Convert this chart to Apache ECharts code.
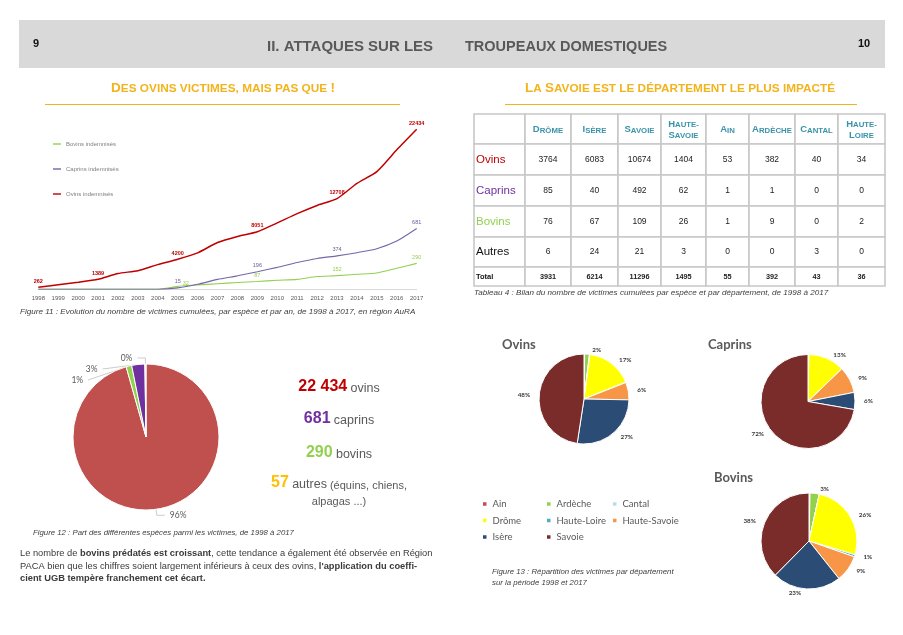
<!DOCTYPE html>
<html><head><meta charset="utf-8">
<script src="https://cdn.jsdelivr.net/npm/echarts@6/dist/echarts.min.js"></script>
<style>html,body{margin:0;padding:0;background:#fff}#c{width:903px;height:635px}</style>
</head><body><div id="c"></div>
<script>
// ---------- DATA ----------
const years = ['1998','1999','2000','2001','2002','2003','2004','2005','2006','2007','2008','2009','2010','2011','2012','2013','2014','2015','2016','2017'];
const ovinsCumul   = [262, 620, 970, 1389, 2200, 2600, 3450, 4200, 5100, 6550, 7400, 8051, 9300, 10600, 11750, 12708, 14850, 16500, 19550, 22434];
const caprinsCumul = [0, 0, 0, 0, 0, 0, 0, 15, 55, 110, 150, 196, 245, 300, 345, 374, 410, 455, 540, 681];
const bovinsCumul  = [0, 0, 0, 0, 0, 0, 0, 32, 47, 62, 75, 87, 100, 110, 142, 152, 168, 182, 235, 290];
const ovinsLabelYears = ['1998','2001','2005','2009','2013','2017'];
const otherLabelYears = ['2005','2009','2013','2017'];

const departments  = ['Drôme','Isère','Savoie','Haute-Savoie','Ain','Ardèche','Cantal','Haute-Loire'];
const ovinsByDept   = [3764, 6083, 10674, 1404, 53, 382, 40, 34];
const caprinsByDept = [85, 40, 492, 62, 1, 1, 0, 0];
const bovinsByDept  = [76, 67, 109, 26, 1, 9, 0, 2];
const autresByDept  = [6, 24, 21, 3, 0, 0, 3, 0];
const totalByDept   = [3931, 6214, 11296, 1495, 55, 392, 43, 36];
const tableRowNames = ['Ovins','Caprins','Bovins','Autres','Total'];

const pieDeptOrder = ['Ain','Ardèche','Cantal','Drôme','Haute-Loire','Haute-Savoie','Isère','Savoie'];

const speciesNames  = ['Ovins','Bovins','Caprins','Autres'];
const speciesTotals = [22434, 290, 681, 57];

const keyNumbers = ['22 434','681','290','57'];
const keyWords   = ['ovins','caprins','bovins','autres'];

// ---------- STYLE ----------
const SANS = 'Liberation Sans, Arial, sans-serif';
const CAL = 'Lato, Open Sans, sans-serif';
const GRAY = '#595959';
const GOLD = '#f2b41c';
const TEAL = '#3a93aa';
const speciesColor = {Ovins:'#c00000', Caprins:'#7030a0', Bovins:'#92d050', Autres:'#ffc000'};
const leftPieColor = {Ovins:'#c0504d', Bovins:'#92d050', Caprins:'#7030a0', Autres:'#f2dcdb'};
const deptColor = {'Ain':'#c0504d','Ardèche':'#92d050','Cantal':'#b7dee8','Drôme':'#ffff00','Haute-Loire':'#4bacc6','Haute-Savoie':'#f79646','Isère':'#2b4c74','Savoie':'#7a2c2a'};

// small caps rich-text builder
function smallCaps(str){
  let out = '', run = '', big = null;
  const flush = () => { if (run) out += '{' + (big ? 'B' : 's') + '|' + run + '}'; run = ''; };
  for (const ch of str) {
    if (ch === '\n') { flush(); out += '\n'; big = null; continue; }
    const isBig = (ch !== ch.toLowerCase()) || ch === '!';
    if (big !== null && isBig !== big) flush();
    big = isBig; run += ch.toUpperCase();
  }
  flush();
  return out;
}

const g = [];
function txt(x, y, text, st){
  g.push({type:'text', x, y, silent:true, style:Object.assign({text, fontFamily:SANS, fill:GRAY, align:'left', verticalAlign:'middle', textAlign:'left', textVerticalAlign:'middle'}, st)});
}
// header band
g.push({type:'rect', silent:true, shape:{x:19, y:20, width:866, height:48}, style:{fill:'#d9d9d9'}});
txt(33, 44, '9', {fontSize:11, fontWeight:'bold', fill:'#111'});
txt(858, 44, '10', {fontSize:11, fontWeight:'bold', fill:'#111'});
txt(267, 46.5, 'II. ATTAQUES SUR LES', {fontSize:15, fontWeight:'bold', fill:GRAY});
txt(465, 46.5, 'TROUPEAUX DOMESTIQUES', {fontSize:14.5, fontWeight:'bold', fill:GRAY});
// section titles
const scRich = (b, s, col) => ({B:{fontSize:b, fontWeight:'bold', fill:col, fontFamily:SANS, verticalAlign:'bottom'}, s:{fontSize:s, fontWeight:'bold', fill:col, fontFamily:SANS, verticalAlign:'bottom'}});
txt(223, 88, smallCaps('Des ovins victimes, mais pas que !'), {align:'center', textAlign:'center', rich:scRich(13.5, 11.8, GOLD)});
txt(680, 88, smallCaps('La Savoie est le département le plus impacté'), {align:'center', textAlign:'center', rich:scRich(13.5, 11.8, GOLD)});
g.push({type:'line', silent:true, shape:{x1:45, y1:104.5, x2:400, y2:104.5}, style:{stroke:GOLD, lineWidth:1}});
g.push({type:'line', silent:true, shape:{x1:505, y1:104.5, x2:857, y2:104.5}, style:{stroke:GOLD, lineWidth:1}});

// captions
const capSt = {fontSize:8.1, fontStyle:'italic', fill:'#404040'};
txt(20, 312, 'Figure 11 : Evolution du nombre de victimes cumulées, par espèce et par an, de 1998 à 2017, en région AuRA', capSt);
txt(474, 293, 'Tableau 4 : Bilan du nombre de victimes cumulées par espèce et par département, de 1998 à 2017', capSt);
txt(33, 533, 'Figure 12 : Part des différentes espèces parmi les victimes, de 1998 à 2017', Object.assign({}, capSt, {fontSize:7.8}));
txt(492, 572, 'Figure 13 : Répartition des victimes par département', Object.assign({}, capSt, {fontSize:7.8}));
txt(492, 582.5, 'sur la période 1998 et 2017', Object.assign({}, capSt, {fontSize:7.8}));

// paragraph
const pRich = {n:{fontSize:9.3, fill:'#3a3a3a', fontFamily:SANS}, b:{fontSize:9.3, fill:'#3a3a3a', fontWeight:'bold', fontFamily:SANS}};
txt(20, 553.5, '{n|Le nombre de }{b|bovins prédatés est croissant}{n|, cette tendance a également été observée en Région}', {rich:pRich});
txt(20, 566, "{n|PACA bien que les chiffres soient largement inférieurs à ceux des ovins, }{b|l'application du coeffi-}", {rich:pRich});
txt(20, 578.5, '{b|cient UGB tempère franchement cet écart.}', {rich:pRich});

// key figures
const keyY = [387, 419, 453, 483];
const keyRich = (col) => ({num:{fontSize:16, fontWeight:'bold', fill:col, fontFamily:SANS, verticalAlign:'bottom'}, w:{fontSize:12.5, fill:GRAY, fontFamily:SANS, verticalAlign:'bottom'}, x:{fontSize:11, fill:GRAY, fontFamily:SANS, verticalAlign:'bottom'}});
['Ovins','Caprins','Bovins','Autres'].forEach((sp, i) => {
  const extra = sp === 'Autres' ? '{x| (équins, chiens,}' : '';
  txt(339, keyY[i], '{num|' + keyNumbers[i] + '} {w|' + keyWords[i] + '}' + extra, {align:'center', textAlign:'center', rich:keyRich(speciesColor[sp])});
});
txt(339, 502, 'alpagas ...)', {align:'center', textAlign:'center', fontSize:11, fill:GRAY});

// pie titles
txt(502, 345, 'Ovins', {fontSize:13, fontWeight:'bold', fill:GRAY, fontFamily:CAL});
txt(708, 345, 'Caprins', {fontSize:13, fontWeight:'bold', fill:GRAY, fontFamily:CAL});
txt(714, 478, 'Bovins', {fontSize:13, fontWeight:'bold', fill:GRAY, fontFamily:CAL});

// table
const colX = [474, 525, 571, 618, 661, 706, 749, 795, 838, 885];
const rowY = [114, 144, 175, 206, 237, 267, 286];
const tableValues = [ovinsByDept, caprinsByDept, bovinsByDept, autresByDept, totalByDept];
for (let r = 0; r < 6; r++) for (let c = 0; c < 9; c++) {
  g.push({type:'rect', silent:true, shape:{x:colX[c], y:rowY[r], width:colX[c+1]-colX[c], height:rowY[r+1]-rowY[r]}, style:{fill:'#fff', stroke:'#c8c8c8', lineWidth:1.6}});
}
const headerLabel = d => d.replace('Haute-', 'Haute-\n');
departments.forEach((d, i) => {
  const cx = (colX[i+1] + colX[i+2]) / 2, cy = (rowY[0] + rowY[1]) / 2;
  g.push({type:'text', silent:true, x:cx, y:cy, style:{text:smallCaps(headerLabel(d)), align:'center', verticalAlign:'middle', textAlign:'center', textVerticalAlign:'middle', lineHeight:11, rich:{B:{fontSize:9.5, fontWeight:'bold', fill:TEAL, fontFamily:SANS, verticalAlign:'bottom', lineHeight:11}, s:{fontSize:7.8, fontWeight:'bold', fill:TEAL, fontFamily:SANS, verticalAlign:'bottom', lineHeight:11}}}});
});
tableRowNames.forEach((name, r) => {
  const cy = (rowY[r+1] + rowY[r+2]) / 2;
  const isTotal = name === 'Total';
  txt(476, cy, name, isTotal ? {fontSize:7.5, fontWeight:'bold', fill:'#111'} : {fontSize:11.5, fill: speciesColor[name] === '#ffc000' ? '#111' : speciesColor[name]});
  tableValues[r].forEach((v, c) => {
    const cx = (colX[c+1] + colX[c+2]) / 2;
    txt(cx, cy, String(v), Object.assign({align:'center', textAlign:'center', fill:'#222'}, isTotal ? {fontSize:7.3, fontWeight:'bold'} : {fontSize:8.5}));
  });
});

// ---------- CHART ----------
const lineLabel = (yearsShown, col, bold) => ({show:true, position:'top', distance:3, fontSize:5.5, fontWeight: bold ? 'bold' : 'normal', color:col, fontFamily:SANS,
  formatter: p => yearsShown.includes(p.name) ? String(p.value) : ''});

function deptPie(name, values, center, radius){
  const tot = values.reduce((a, b) => a + b, 0);
  return {
    type:'pie', name, center, radius, startAngle:90, clockwise:true, silent:true, percentPrecision:0,
    avoidLabelOverlap:false,
    itemStyle:{borderColor:'#fff', borderWidth:1},
    label:{show:true, position:'outside', formatter:'{d}%', fontSize:6.3, fontWeight:'bold', color:'#3a3a3a', fontFamily:CAL},
    labelLine:{show:false, length:4, length2:0},
    data: pieDeptOrder.map(d => {
      const v = values[departments.indexOf(d)];
      return {name:d, value:v, itemStyle:{color:deptColor[d]}, label:{show: v / tot >= 0.005}};
    })
  };
}

const legendText = {fontSize:9.5, color:GRAY, fontFamily:CAL, lineHeight:12};
const deptLegend = (items, left) => ({data:items, orient:'vertical', left, top:498, padding:0, itemGap:4.5, icon:'rect', itemWidth:5.5, itemHeight:5.5, selectedMode:false, textStyle:legendText});

const option = {
  animation:false,
  backgroundColor:'#fff',
  graphic: g,
  legend:[
    {data:['Bovins indemnisés','Caprins indemnisés','Ovins indemnisés'], orient:'vertical', left:53, top:140, padding:0, itemGap:17, icon:'rect', itemWidth:8, itemHeight:1.4, selectedMode:false, textStyle:{fontSize:6, color:'#808080', fontFamily:SANS, lineHeight:8}},
    deptLegend(['Ain','Drôme','Isère'], 481),
    deptLegend(['Ardèche','Haute-Loire','Savoie'], 545),
    deptLegend(['Cantal','Haute-Savoie'], 611)
  ],
  grid:{left:38.3, right:486.3, top:111, bottom:345.8, containLabel:false},
  xAxis:{type:'category', data:years, boundaryGap:false,
    axisLine:{lineStyle:{color:'#d9d9d9', width:1}}, axisTick:{show:false},
    axisLabel:{interval:0, fontSize:6, color:GRAY, margin:6, fontFamily:SANS}, splitLine:{show:false}},
  yAxis:[
    {type:'value', min:0, max:25000, show:false, splitLine:{show:false}},
    {type:'value', min:0, max:2000, show:false, splitLine:{show:false}}
  ],
  series:[
    {type:'line', name:'Bovins indemnisés', data: bovinsCumul.map((v, i) => years[i] === '2005' ? {value:v, label:{offset:[8, 3]}} : v),
      yAxisIndex:1, smooth:0.2, symbol:'circle', symbolSize:0.1, color:'#92d050', lineStyle:{width:1.1, color:'#92d050'}, label:lineLabel(otherLabelYears, '#92d050', false), silent:true},
    {type:'line', name:'Caprins indemnisés', data: caprinsCumul, yAxisIndex:1, smooth:0.2, symbol:'circle', symbolSize:0.1, color:'#7566a8',
      lineStyle:{width:1.1, color:'#7566a8'}, label:lineLabel(otherLabelYears, '#6a5d96', false), silent:true},
    {type:'line', name:'Ovins indemnisés', data: ovinsCumul, yAxisIndex:0, smooth:0.2, symbol:'circle', symbolSize:0.1, color:'#c00000',
      lineStyle:{width:1.5, color:'#c00000'}, label:lineLabel(ovinsLabelYears, '#c00000', true), silent:true},
    {type:'pie', name:'Espèces', center:[146, 437], radius:73, startAngle:90, clockwise:true, silent:true, percentPrecision:0,
      itemStyle:{borderColor:'#fff', borderWidth:1},
      label:{formatter:'{d}%', fontSize:8.5, color:GRAY, fontFamily:CAL},
      labelLine:{length:6, length2:8, lineStyle:{color:'#bfbfbf', width:0.8}},
      data: speciesNames.map((n, i) => ({name:n, value:speciesTotals[i], itemStyle:{color:leftPieColor[n]}}))},
    deptPie('Ovins', ovinsByDept, [584, 399], 45),
    deptPie('Caprins', caprinsByDept, [808, 401.5], 47),
    deptPie('Bovins', bovinsByDept, [809, 541], 48)
  ]
};
const chart = echarts.init(document.getElementById('c'), null, {renderer:'canvas'});
chart.setOption(option);
</script>
</body></html>
